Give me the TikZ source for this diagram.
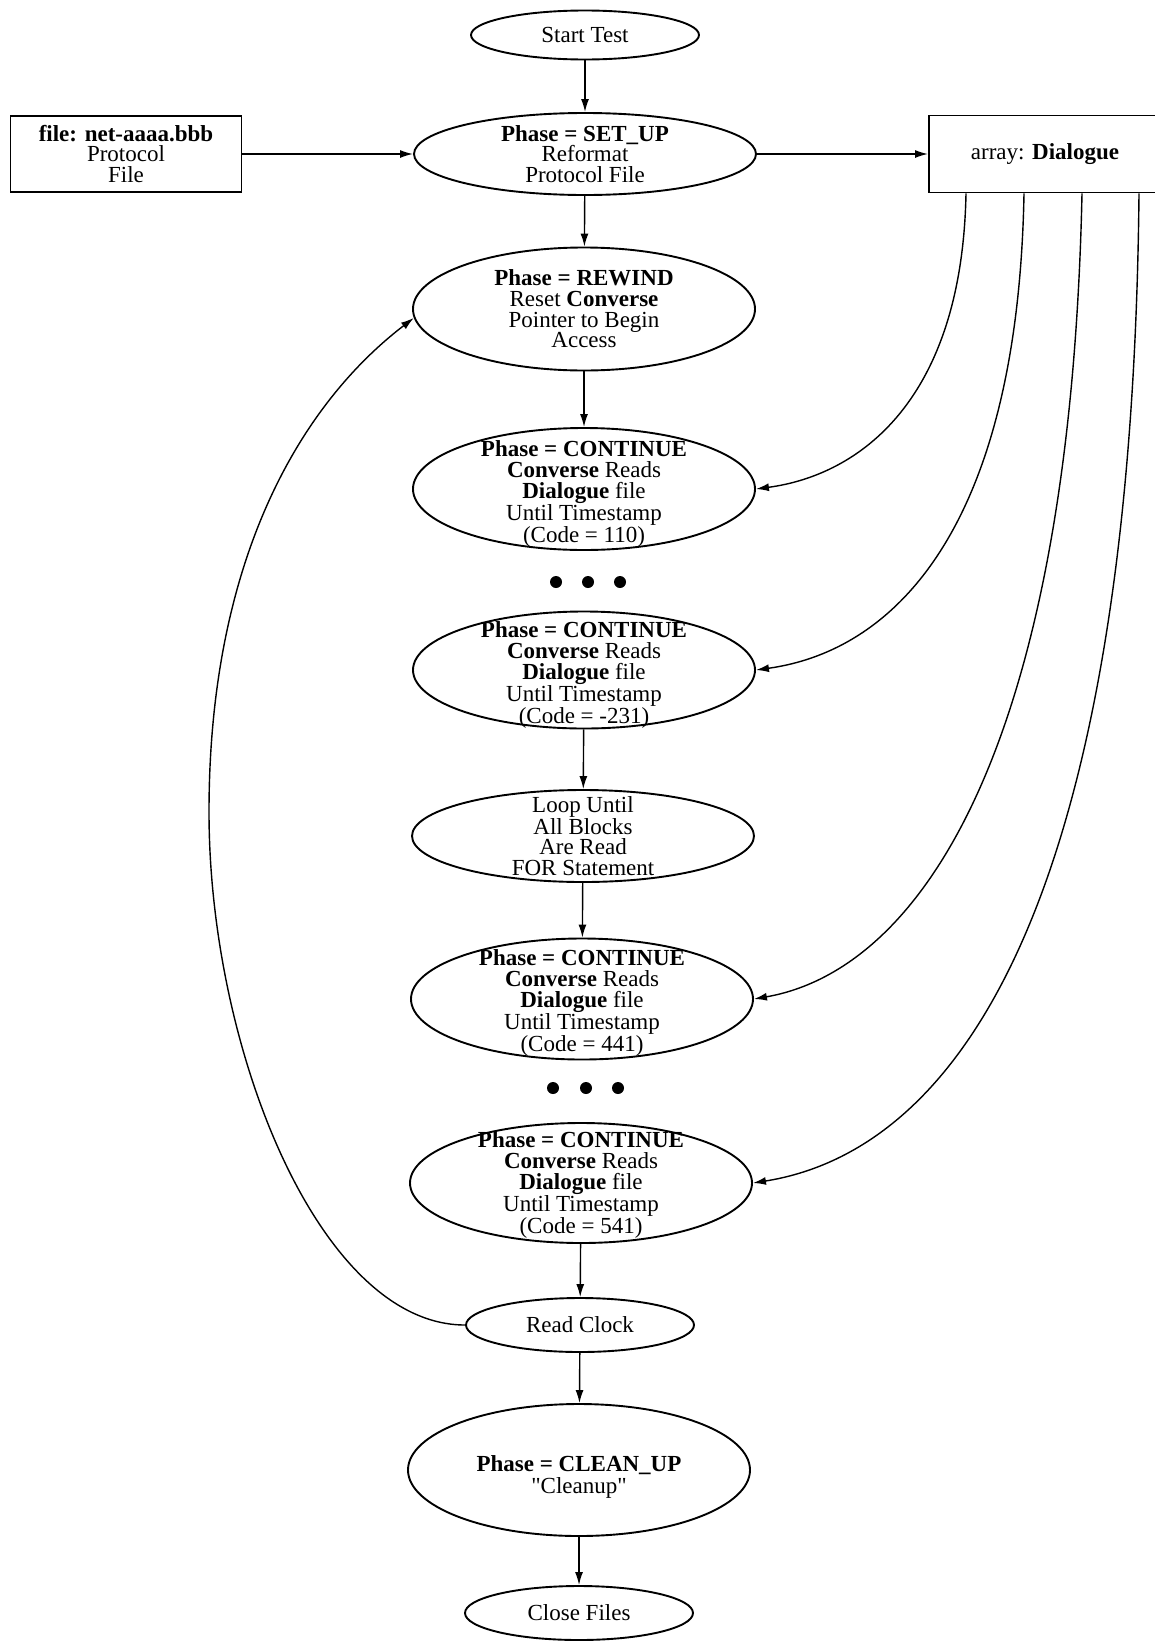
\documentclass[tikz,border=0pt]{standalone}
\usepackage{fontspec}
\setmainfont{Liberation Serif}[Ligatures=TeXOff]
\usetikzlibrary{shapes.geometric,arrows.meta}
% extra room above the first line, to set a block of text a little lower
\newcommand{\dropby}[1]{\rule{0pt}{#1}}
\begin{document}
\begin{tikzpicture}[x=1pt,y=-1pt,
  txt/.style={font=\fontsize{23}{20.7}\selectfont, align=center},
  oval/.style={txt, ellipse, draw, line width=1.9pt, inner sep=-40pt},
  bigoval/.style={oval, minimum width=342pt},
  smalloval/.style={oval, minimum width=228pt, minimum height=54pt},
  filebox/.style={txt, draw, line width=1.9pt, inner sep=0pt},
  flow/.style={line width=1.4pt, -{Latex[length=13pt,width=8pt]}},
  dot/.style={circle, fill, inner sep=0pt, minimum size=12pt}
]
\useasboundingbox (0,0) rectangle (1155,1641);

% main column
\node[smalloval, minimum height=49pt] (st) at (585,35) {Start Test};
\node[bigoval, minimum height=82pt] (su) at (585,154)
  {\textbf{Phase = SET\_UP}\\Reformat\\Protocol File};
\node[bigoval, minimum height=123pt] (rw) at (584,309)
  {\textbf{Phase = REWIND}\\Reset \textbf{Converse}\\Pointer to Begin\\Access};
\node[bigoval, minimum height=122pt] (c1) at (584,489)
  {\dropby{26pt}\textbf{Phase = CONTINUE}\\\textbf{Converse} Reads\\\textbf{Dialogue} file\\Until Timestamp\\(Code = 110)};
\node[dot] (d1a) at (556,582) {};
\node[dot] (d1b) at (588,582) {};
\node[dot] (d1c) at (620,582) {};
\node[bigoval, minimum height=117pt] (c2) at (584,670)
  {\dropby{26pt}\textbf{Phase = CONTINUE}\\\textbf{Converse} Reads\\\textbf{Dialogue} file\\Until Timestamp\\(Code = -231)};
\node[bigoval, minimum height=92pt] (lp) at (583,836)
  {Loop Until\\All Blocks\\Are Read\\FOR Statement};
\node[bigoval, minimum height=121pt] (c3) at (582,999)
  {\dropby{24pt}\textbf{Phase = CONTINUE}\\\textbf{Converse} Reads\\\textbf{Dialogue} file\\Until Timestamp\\(Code = 441)};
\node[dot] (d2a) at (553,1088) {};
\node[dot] (d2b) at (586,1088) {};
\node[dot] (d2c) at (618,1088) {};
\node[bigoval, minimum height=120pt] (c4) at (581,1183)
  {\dropby{20pt}\textbf{Phase = CONTINUE}\\\textbf{Converse} Reads\\\textbf{Dialogue} file\\Until Timestamp\\(Code = 541)};
\node[smalloval] (rc) at (580,1325) {Read Clock};
\node[bigoval, minimum height=132pt] (cu) at (579,1470)
  {\dropby{30pt}\textbf{Phase = CLEAN\_UP}\\[2pt]"Cleanup"};
\node[smalloval] (cf) at (579,1613) {Close Files};

% side boxes
\node[filebox, minimum width=231pt, minimum height=76pt] (pf) at (126,154)
  {\textbf{file: net-aaaa.bbb}\\Protocol\\File};
\node[filebox, minimum width=232pt, minimum height=77pt] (ar) at (1045,154)
  {array: \textbf{Dialogue}};

% straight flow
\draw[flow] (st) -- (su);
\draw[flow] (pf) -- (su);
\draw[flow] (su) -- (ar);
\draw[flow] (su) -- (rw);
\draw[flow] (rw) -- (c1);
\draw[flow] (c2) -- (lp);
\draw[flow] (lp) -- (c3);
\draw[flow] (c4) -- (rc);
\draw[flow] (rc) -- (cu);
\draw[flow] (cu) -- (cf);

% data feeds from the dialogue array
\draw[flow] ([xshift=-79pt]ar.south) .. controls (962,400) and (860,475) .. (c1.east);
\draw[flow] ([xshift=-21pt]ar.south) .. controls (1018,520) and (900,650) .. (c2.east);
\draw[flow] ([xshift=37pt]ar.south) .. controls (1070,750) and (920,970) .. (c3.east);
\draw[flow] ([xshift=94pt]ar.south) .. controls (1132,900) and (960,1150) .. (c4.east);

% loop back to rewind
\coordinate (lb) at (209,812);
\draw[flow] (rc.west) .. controls (320,1325) and (209,1050) .. (lb)
  .. controls (209,560) and (300,405) .. (rw.183);
\end{tikzpicture}
\end{document}
